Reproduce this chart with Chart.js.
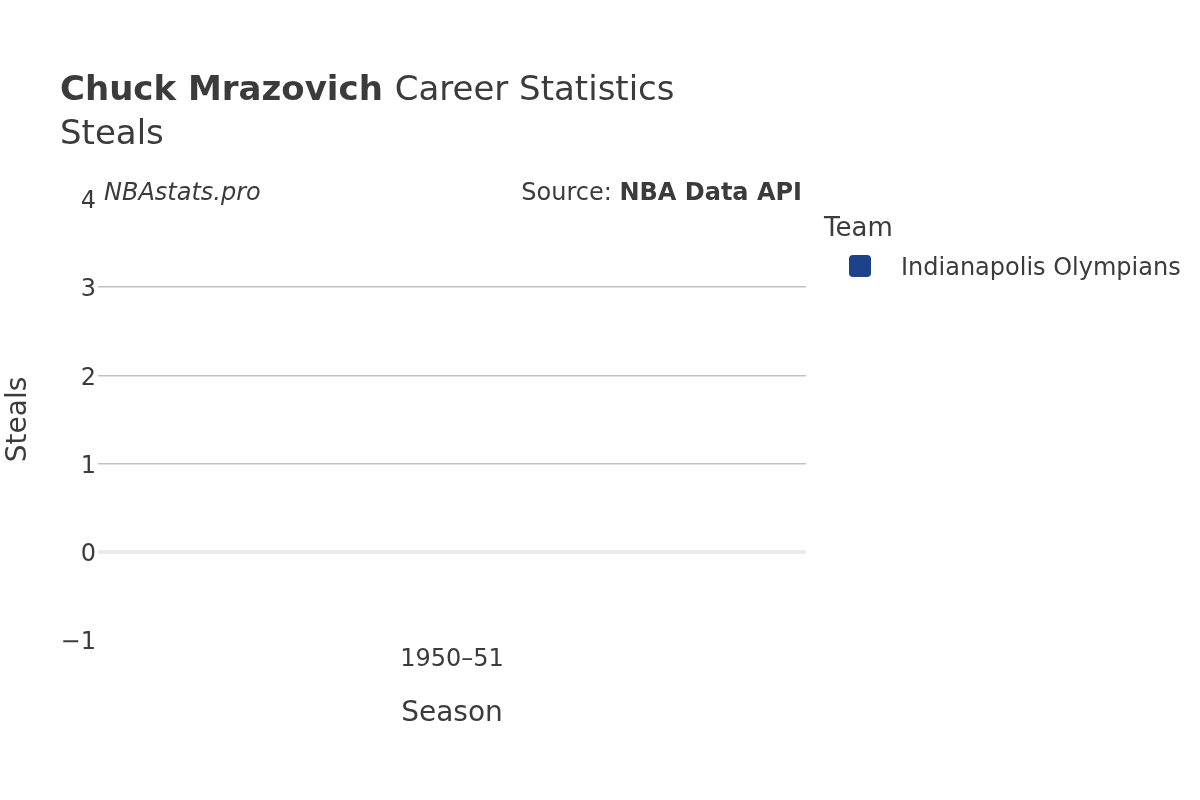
<!DOCTYPE html>
<html>
<head>
<meta charset="utf-8">
<script src="https://cdn.jsdelivr.net/npm/chart.js@4/dist/chart.umd.min.js"></script>
<style>
  html, body { margin: 0; padding: 0; background: #fff; }
  #wrap { width: 1200px; height: 800px; }
</style>
</head>
<body>
<div id="wrap"><canvas id="stealsChart" width="1200" height="800"></canvas></div>
<script>
// chart data
const playerName = 'Chuck Mrazovich';
const statName = 'Steals';
const seasons = ['1950–51'];
const teams = ['Indianapolis Olympians'];
const teamColors = ['#1d428a'];
// steals were not recorded in 1950-51, so the single season has no bar
const stealsByTeam = [[null]];
const yTicks = [-1, 0, 1, 2, 3, 4];

const FONT = "'DejaVu Sans', 'Open Sans', sans-serif";
const TEXT = '#3b3b3b';

// fixed plot box (matches the reference)
const PLOT = { left: 98, right: 806, top: 199, bottom: 640 };
const BOTTOM_PAD = 65;

// titles, watermark and legend drawn on top of the chart
const decorPlugin = {
    id: 'decor',
    afterDraw(chart) {
        const c = chart.ctx;
        c.save();
        c.fillStyle = TEXT;
        c.textBaseline = 'middle';
        c.textAlign = 'left';

        // title line 1
        c.font = 'bold 34px ' + FONT;
        c.fillText(playerName, 60, 91);
        const w = c.measureText(playerName + ' ').width;
        c.font = '34px ' + FONT;
        c.fillText('Career Statistics', 60 + w, 91);
        // title line 2
        c.fillText(statName, 60, 135);

        // watermark + source
        c.font = 'italic 24px ' + FONT;
        c.fillText('NBAstats.pro', 104, 194);
        c.textAlign = 'right';
        c.font = 'bold 24px ' + FONT;
        c.fillText('NBA Data API', 802, 194);
        const bw = c.measureText('NBA Data API').width;
        c.font = '24px ' + FONT;
        c.fillText('Source: ', 802 - bw, 194);

        // legend
        c.textAlign = 'left';
        c.font = '26px ' + FONT;
        c.fillText('Team', 824, 229);
        chart.data.datasets.forEach((ds, i) => {
            const y = 266 + i * 30;
            c.fillStyle = ds.backgroundColor;
            c.beginPath();
            c.roundRect(849, y - 11, 22, 22, 4);
            c.fill();
            c.fillStyle = TEXT;
            c.font = '24px ' + FONT;
            c.fillText(ds.label, 901, y + 3);
        });
        c.restore();
    }
};

window.addEventListener('DOMContentLoaded', function() {
    const ctx = document.getElementById('stealsChart');

    const datasets = teams.map((team, i) => ({
        label: team,
        data: stealsByTeam[i],
        backgroundColor: teamColors[i],
        borderWidth: 0
    }));

    new Chart(ctx, {
        type: 'bar',
        data: { labels: seasons, datasets: datasets },
        options: {
            responsive: false,
            animation: false,
            devicePixelRatio: 1,
            layout: {
                padding: { left: 0, top: PLOT.top, right: 1200 - PLOT.right, bottom: BOTTOM_PAD }
            },
            plugins: {
                legend: { display: false },
                title: { display: false },
                tooltip: { enabled: false }
            },
            scales: {
                x: {
                    offset: true,
                    grid: { display: false, drawTicks: false },
                    border: { display: false },
                    ticks: { color: TEXT, font: { family: FONT, size: 24 }, padding: 5, maxRotation: 0 },
                    title: { display: true, text: 'Season', color: TEXT, font: { family: FONT, size: 28 }, padding: 4 },
                    afterFit(scale) { scale.height = 800 - BOTTOM_PAD - PLOT.bottom; }
                },
                y: {
                    min: -1,
                    max: 4,
                    afterBuildTicks(scale) { scale.ticks = yTicks.map(v => ({ value: v })); },
                    grid: {
                        drawTicks: false,
                        color: (c) => {
                            const v = c.tick && c.tick.value;
                            if (v === 0) return '#ebebeb';
                            if (v === 4 || v === -1) return 'rgba(0,0,0,0)';
                            return '#c0c0c0';
                        },
                        lineWidth: (c) => (c.tick && c.tick.value === 0 ? 4 : 1.5)
                    },
                    border: { display: false },
                    ticks: {
                        color: TEXT,
                        font: { family: FONT, size: 24 },
                        padding: 2,
                        labelOffset: 3,
                        callback: (v) => (v < 0 ? '\u2212' + Math.abs(v) : String(v))
                    },
                    title: { display: true, text: 'Steals', color: TEXT, font: { family: FONT, size: 28 }, padding: 2 },
                    afterFit(scale) { scale.width = PLOT.left; }
                }
            }
        },
        plugins: [decorPlugin]
    });
});
</script>
</body>
</html>
